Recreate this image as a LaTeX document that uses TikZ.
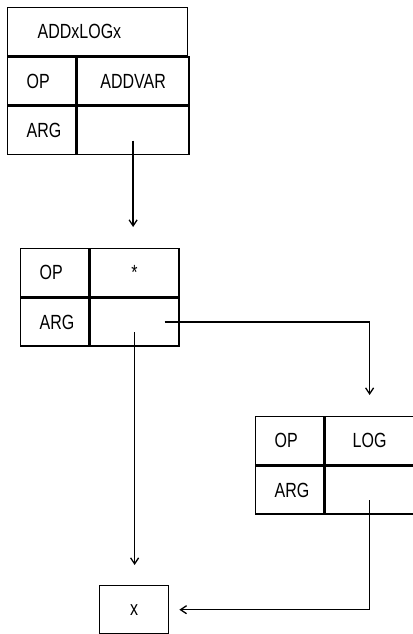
\documentclass[tikz,border=0pt]{standalone}
\usepackage{fontspec}
\newfontfamily\dotfont[FakeStretch=0.78]{Liberation Sans}
\usetikzlibrary{arrows.meta,positioning}

\begin{document}
\begin{tikzpicture}[x=1pt, y=-1pt,
  cell/.style = {draw, line width=1.4pt, minimum height=48pt, inner sep=0pt, font=\dotfont\fontsize{20.5}{24}\selectfont},
  key/.style = {cell, minimum width=68pt, text width=30pt, inner xsep=19pt, align=left},
  val/.style = {cell, minimum width=89pt},
  link/.style = {line width=1.3pt, -{Straight Barb[length=6pt, width=8pt]}}
  ]
\useasboundingbox (0,0) rectangle (412,634);

% top record
\node[cell, minimum width=180pt, text width=120pt, inner xsep=30pt, align=left, anchor=north west] (title) at (7,7) {ADDxLOGx};
\node[key, anchor=north west] (top) at (title.south west) {OP};
\node[val, minimum width=112pt, anchor=north west] (topv) at (top.north east) {ADDVAR};
\node[key, anchor=north west] (targ) at (top.south west) {ARG};
\node[val, minimum width=112pt, anchor=north west] (targv) at (targ.north east) {};

% middle record
\node[key, anchor=north west] (mop) at (20,248) {OP};
\node[val, anchor=north west] (mopv) at (mop.north east) {*};
\node[key, anchor=north west] (marg) at (mop.south west) {ARG};
\node[val, anchor=north west] (margv) at (marg.north east) {};

% log record
\node[key, anchor=north west] (lop) at (255,416) {OP};
\node[val, anchor=north west] (lopv) at (lop.north east) {LOG};
\node[key, anchor=north west] (larg) at (lop.south west) {ARG};
\node[val, anchor=north west] (largv) at (larg.north east) {};

% variable
\node[cell, minimum width=69pt, anchor=north west] (xbox) at (99,585) {x};

% pointers
\draw[link, shorten >=21pt] ([yshift=-10pt]targv.center) -- (targv.center |- mopv.north);
\draw[link, shorten >=21pt] ([xshift=30pt]margv.center) -| (lopv.north);
\draw[link, shorten >=20pt] ([yshift=-10pt]margv.center) -- (margv.center |- xbox.north);
\draw[link, shorten >=10pt] ([yshift=-10pt]largv.center) |- (xbox.east);
\end{tikzpicture}
\end{document}
